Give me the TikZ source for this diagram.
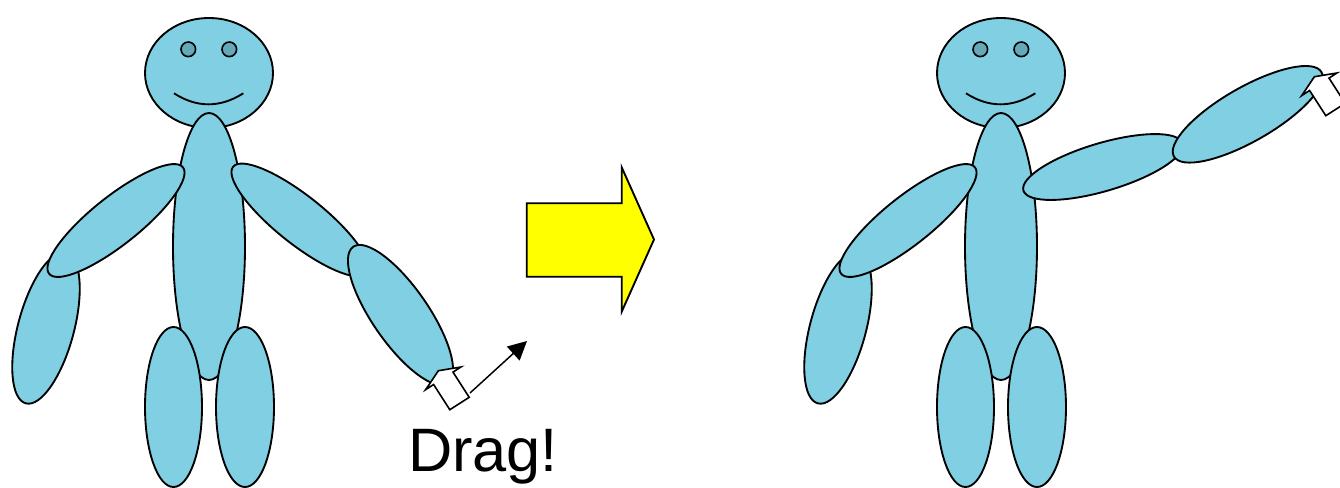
\documentclass[tikz,border=0pt]{standalone}
\usepackage{fontspec}
\setmainfont{Liberation Sans}
\usetikzlibrary{arrows.meta}
\definecolor{skin}{HTML}{80CFE2}
\definecolor{eyecol}{HTML}{66A8B8}
\definecolor{arrowyellow}{HTML}{FFFF00}
\tikzset{
  limb/.style={draw=black, fill=skin, line width=1.4pt},
  eye/.style={draw=black, fill=eyecol, line width=1.2pt},
  smile/.style={draw=black, line width=1.4pt},
  cursor/.style={draw=black, fill=white, line width=1.2pt, line join=miter},
  bigarrow/.style={draw=black, fill=arrowyellow, line width=1.4pt, line join=miter},
  dragline/.style={draw=black, line width=1.1pt, -{Triangle[length=14pt,width=14pt]}},
  label/.style={font=\fontsize{46}{50}\selectfont, anchor=base, inner sep=0pt}
}
\begin{document}
\begin{tikzpicture}[x=0.75pt,y=-0.75pt]
\useasboundingbox (0,0) rectangle (1340,487);

% ---------- shared parts of a stick figure: head, face, body, legs, left arm ----------
\newcommand{\figurecore}{%
  \draw[limb] (209,73) ellipse (64 and 55);
  \draw[eye] (188.3,49.3) circle (7.3);
  \draw[eye] (229.3,49.3) circle (7.3);
  \draw[smile] (174,93.3) .. controls (197,108) and (220,108) .. (243.3,93.3);
  \draw[limb] (209,246.5) ellipse (36 and 133.5);
  \draw[limb] (173.5,407) ellipse (28.5 and 80);
  \draw[limb] (245,407) ellipse (29 and 80);
  \draw[limb, rotate around={-15:(46,328)}] (46,328) ellipse (28 and 78);
  \draw[limb, rotate around={38.5:(116,220.5)}] (116,220.5) ellipse (85.5 and 24);
}

% ---------- figure before dragging ----------
\figurecore
\draw[limb, rotate around={-38.5:(300,220)}] (300,220) ellipse (85.5 and 24);
\draw[limb, rotate around={-55.3:(400.5,315)}] (400.5,315) ellipse (83 and 28);

% mouse pointer on the hand
\draw[cursor] (438.4,370.7) -- (460.9,367) -- (453,372.1) -- (469.2,397.3)
  -- (449.8,409.7) -- (433.6,384.5) -- (425.7,389.6) -- cycle;

% drag direction and label
\coordinate (dragstart) at (470,393);
\coordinate (dragend) at (527,341);
\draw[dragline] (dragstart) -- (dragend);
\node[label] (dragtext) at (483,471) {Drag!};

% ---------- transition arrow ----------
\draw[bigarrow] (526.7,203.3) -- (621.7,203.3) -- (621.7,167.3) -- (654,239.5)
  -- (621.7,311.7) -- (621.7,276.7) -- (526.7,276.7) -- cycle;

% ---------- figure after dragging ----------
\begin{scope}[shift={(792,0)}]
  \figurecore
\end{scope}
\draw[limb, rotate around={16.5:(1103,167)}] (1103,167) ellipse (83 and 24);
\draw[limb, rotate around={29.8:(1247.7,114.3)}] (1247.7,114.3) ellipse (85 and 27);

% mouse pointer on the raised hand
\begin{scope}[shift={(876,-294)}]
  \draw[cursor] (438.4,370.7) -- (460.9,367) -- (453,372.1) -- (469.2,397.3)
    -- (449.8,409.7) -- (433.6,384.5) -- (425.7,389.6) -- cycle;
\end{scope}
\end{tikzpicture}
\end{document}
